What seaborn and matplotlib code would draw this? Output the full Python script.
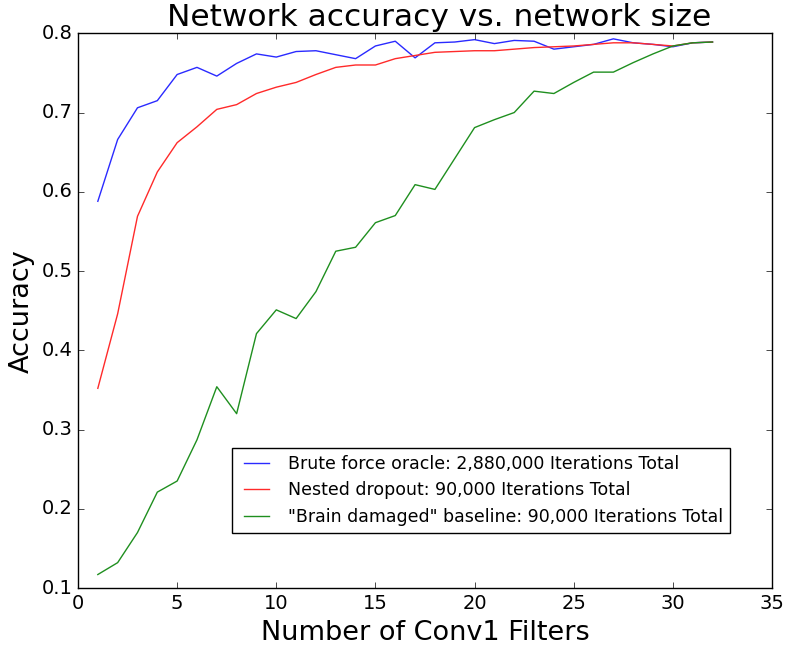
import matplotlib
matplotlib.use("Agg")
import matplotlib.pyplot as plt
import seaborn as sns
import numpy as np
import pandas as pd

filters = list(range(1, 33))

brute_force = [0.588, 0.666, 0.706, 0.715, 0.748, 0.757, 0.746, 0.762, 0.774, 0.770,
               0.777, 0.778, 0.773, 0.768, 0.784, 0.790, 0.769, 0.788, 0.789, 0.792,
               0.787, 0.791, 0.790, 0.780, 0.783, 0.786, 0.793, 0.788, 0.786, 0.783,
               0.788, 0.789]
nested_dropout = [0.352, 0.446, 0.569, 0.625, 0.662, 0.682, 0.704, 0.710, 0.724, 0.732,
                  0.738, 0.748, 0.757, 0.760, 0.760, 0.768, 0.772, 0.776, 0.777, 0.778,
                  0.778, 0.780, 0.782, 0.783, 0.784, 0.786, 0.788, 0.788, 0.786, 0.784,
                  0.788, 0.789]
brain_damaged = [0.117, 0.132, 0.170, 0.221, 0.235, 0.287, 0.354, 0.320, 0.421, 0.451,
                 0.440, 0.474, 0.525, 0.530, 0.561, 0.570, 0.609, 0.603, 0.642, 0.681,
                 0.691, 0.700, 0.727, 0.724, 0.738, 0.751, 0.751, 0.763, 0.774, 0.784,
                 0.788, 0.789]

labels = ["Brute force oracle: 2,880,000 Iterations Total",
          "Nested dropout: 90,000 Iterations Total",
          "\"Brain damaged\" baseline: 90,000 Iterations Total"]
colors = ["#2a2aff", "#ff2a2a", "#1f8f1f"]

x_ticks = [0, 5, 10, 15, 20, 25, 30, 35]
y_ticks = [0.1, 0.2, 0.3, 0.4, 0.5, 0.6, 0.7, 0.8]

plt.style.use("classic")
plt.rcParams["font.family"] = ["DejaVu Sans"]
plt.rcParams["figure.facecolor"] = "white"

df = pd.concat([
    pd.DataFrame({"filters": filters, "acc": vals, "series": lab})
    for vals, lab in zip([brute_force, nested_dropout, brain_damaged], labels)
], ignore_index=True)

fig = plt.figure(figsize=(7.86, 6.45), dpi=100)
ax = fig.add_axes([78 / 786, 57 / 645, (772 - 78) / 786, (588 - 33.3) / 645])

sns.lineplot(data=df, x="filters", y="acc", hue="series", hue_order=labels,
             palette=dict(zip(labels, colors)), linewidth=1.0, ax=ax, legend=True)

ax.set_xlim(0, 35)
ax.set_ylim(0.1, 0.8)
ax.set_xticks(x_ticks)
ax.set_yticks(y_ticks)
ax.set_xticklabels([str(t) for t in x_ticks])
ax.set_yticklabels([f"{t:.1f}" for t in y_ticks])
ax.tick_params(labelsize=14)
ax.set_title("Network accuracy vs. network size", fontsize=22.5, x=0.52)
ax.set_xlabel("Number of Conv1 Filters", fontsize=19.5)
ax.set_ylabel("Accuracy", fontsize=19.5)

handles, hl = ax.get_legend_handles_labels()
leg = ax.legend(handles, hl, loc="lower left", bbox_to_anchor=(0.222, 0.099),
                borderaxespad=0, fontsize=12.5, fancybox=False, frameon=True)
leg.get_frame().set_edgecolor("black")

fig.savefig("out.png", dpi=100, facecolor="white")
